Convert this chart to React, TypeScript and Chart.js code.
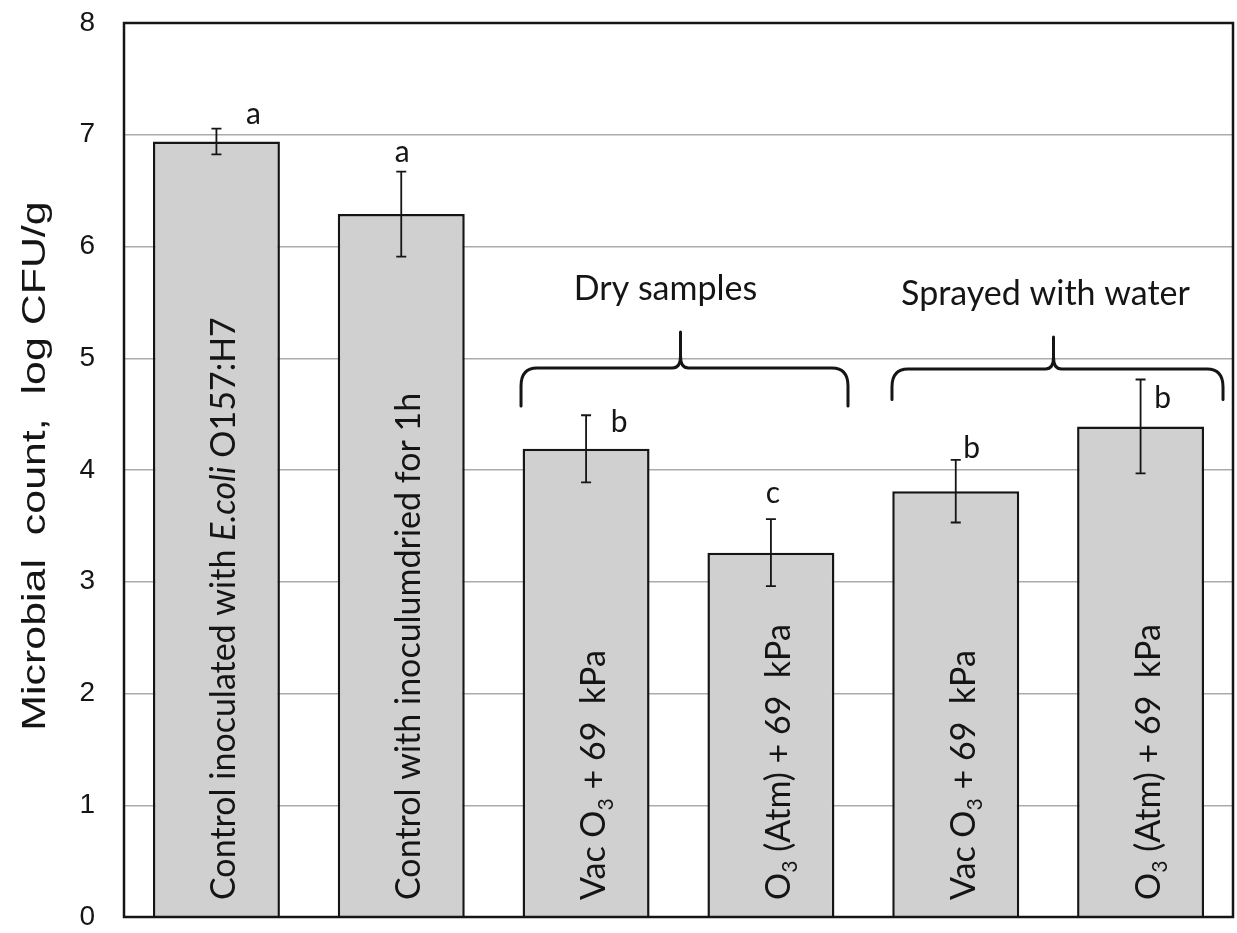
import React, { useEffect, useRef } from 'react';
import { Chart, registerables } from 'chart.js';

Chart.register(...registerables);

type Seg = { t: string; i?: boolean; sub?: boolean };

// Treatments (one bar each)
const categories = ['ctrlInoculated', 'ctrlDried', 'dryVac', 'dryAtm', 'wetVac', 'wetAtm'];

// Text written vertically inside each bar
const barLabels: Seg[][] = [
  [{ t: 'Control inoculated with ' }, { t: 'E.coli', i: true }, { t: ' O157:H7' }],
  [{ t: 'Control with inoculumdried for 1h' }],
  [{ t: 'Vac O' }, { t: '3', sub: true }, { t: ' + 69  kPa' }],
  [{ t: 'O' }, { t: '3', sub: true }, { t: ' (Atm) + 69  kPa' }],
  [{ t: 'Vac O' }, { t: '3', sub: true }, { t: ' + 69  kPa' }],
  [{ t: 'O' }, { t: '3', sub: true }, { t: ' (Atm) + 69  kPa' }],
];

// Mean counts and standard deviations, log CFU/g
const meanLog = [6.94, 6.29, 4.19, 3.26, 3.81, 4.39];
const sdLog = [0.115, 0.38, 0.3, 0.3, 0.28, 0.42];

// Significance letters
const sigLetters = ['a', 'a', 'b', 'c', 'b', 'b'];

// Y axis
const yMin = 0;
const yMax = 8;
const yStep = 1;
const yTitle = 'Microbial  count,  log CFU/g';

// Treatment groups marked with braces
const groupNames = ['Dry samples', 'Sprayed with water'];
const groupFirst = [2, 4];
const groupLast = [3, 5];

// Letter placement relative to the top of each error bar (px)
const letterShift: [number, number][] = [
  [37, -5],
  [1, -10],
  [33, 17],
  [2, -16],
  [16, -2],
  [22, 29],
];

// Brace geometry: side overhang (fraction of category), heights in axis units
const braceGeom = [
  { padL: 0.352, padR: 0.417, tip: 5.235, bar: 4.913, end: 4.573, labelY: 5.52, labelDx: -15 },
  { padL: 0.345, padR: 0.446, tip: 5.19, bar: 4.904, end: 4.63, labelY: 5.48, labelDx: -8 },
];

const CAL = 'Lato, "Open Sans", sans-serif';
const ARIAL = '"Liberation Sans", Arial, sans-serif';
const INK = '#151515';

function drawRich(ctx: CanvasRenderingContext2D, segs: Seg[], size: number) {
  let x = 0;
  for (const s of segs) {
    const fs = s.sub ? size * 0.62 : size;
    ctx.font = `${s.i ? 'italic ' : ''}${fs}px ${CAL}`;
    ctx.fillText(s.t, x, s.sub ? size * 0.22 : 0);
    x += ctx.measureText(s.t).width;
  }
}

function drawBrace(
  ctx: CanvasRenderingContext2D,
  x0: number,
  x1: number,
  xm: number,
  yTip: number,
  yBar: number,
  yEnd: number
) {
  ctx.beginPath();
  ctx.moveTo(x0, yEnd);
  ctx.lineTo(x0, yBar + 18);
  ctx.quadraticCurveTo(x0, yBar, x0 + 16, yBar);
  ctx.lineTo(xm - 8, yBar);
  ctx.quadraticCurveTo(xm, yBar, xm, yBar - 12);
  ctx.lineTo(xm, yTip);
  ctx.moveTo(xm, yBar - 12);
  ctx.quadraticCurveTo(xm, yBar, xm + 8, yBar);
  ctx.lineTo(x1 - 16, yBar);
  ctx.quadraticCurveTo(x1, yBar, x1, yBar + 18);
  ctx.lineTo(x1, yEnd);
  ctx.stroke();
}

const overlay = {
  id: 'overlay',
  afterDatasetsDraw(chart: Chart) {
    const { ctx, chartArea } = chart;
    const xs = chart.scales.x;
    const ys = chart.scales.y;
    const catW = (chartArea.right - chartArea.left) / categories.length;

    ctx.save();

    // error bars + letters
    ctx.strokeStyle = INK;
    ctx.fillStyle = INK;
    ctx.lineWidth = 1.8;
    meanLog.forEach((m, i) => {
      const cx = xs.getPixelForValue(i);
      const top = ys.getPixelForValue(m + sdLog[i]);
      const bot = ys.getPixelForValue(m - sdLog[i]);
      ctx.beginPath();
      ctx.moveTo(cx, top);
      ctx.lineTo(cx, bot);
      ctx.moveTo(cx - 5, top);
      ctx.lineTo(cx + 5, top);
      ctx.moveTo(cx - 5, bot);
      ctx.lineTo(cx + 5, bot);
      ctx.stroke();

      ctx.font = `30px ${CAL}`;
      ctx.textAlign = 'center';
      ctx.textBaseline = 'alphabetic';
      ctx.fillText(sigLetters[i], cx + letterShift[i][0], top + letterShift[i][1]);
    });

    // vertical labels inside bars
    ctx.textAlign = 'left';
    ctx.textBaseline = 'alphabetic';
    barLabels.forEach((segs, i) => {
      const cx = xs.getPixelForValue(i);
      ctx.save();
      ctx.translate(cx + 19, chartArea.bottom - 17);
      ctx.rotate(-Math.PI / 2);
      drawRich(ctx, segs, 34);
      ctx.restore();
    });

    // braces and group names
    ctx.lineWidth = 3;
    ctx.lineCap = 'round';
    ctx.lineJoin = 'round';
    groupNames.forEach((name, g) => {
      const geo = braceGeom[g];
      const x0 = xs.getPixelForValue(groupFirst[g]) - geo.padL * catW;
      const x1 = xs.getPixelForValue(groupLast[g]) + geo.padR * catW;
      const xm = (x0 + x1) / 2 - 4;
      drawBrace(
        ctx,
        x0,
        x1,
        xm,
        ys.getPixelForValue(geo.tip),
        ys.getPixelForValue(geo.bar),
        ys.getPixelForValue(geo.end)
      );
      ctx.font = `34px ${CAL}`;
      ctx.textAlign = 'center';
      ctx.textBaseline = 'alphabetic';
      ctx.fillText(name, xm + geo.labelDx, ys.getPixelForValue(geo.labelY));
    });

    // plot frame
    ctx.lineWidth = 2.5;
    ctx.lineCap = 'butt';
    ctx.lineJoin = 'miter';
    ctx.strokeStyle = INK;
    ctx.strokeRect(
      chartArea.left,
      chartArea.top,
      chartArea.right - chartArea.left,
      chartArea.bottom - chartArea.top
    );

    // y axis title
    ctx.save();
    ctx.translate(45, (chartArea.top + chartArea.bottom) / 2 - 4);
    ctx.rotate(-Math.PI / 2);
    ctx.scale(1.3, 1);
    ctx.font = `33px ${ARIAL}`;
    ctx.textAlign = 'center';
    ctx.textBaseline = 'alphabetic';
    ctx.fillStyle = INK;
    ctx.fillText(yTitle, 0, 0);
    ctx.restore();

    ctx.restore();
  },
};

export default function App() {
  const canvasRef = useRef<HTMLCanvasElement | null>(null);

  useEffect(() => {
    if (!canvasRef.current) return;
    const chart = new Chart(canvasRef.current, {
      type: 'bar',
      data: {
        labels: categories,
        datasets: [
          {
            data: meanLog,
            backgroundColor: '#d0d0d0',
            borderColor: INK,
            borderWidth: 2.5,
            borderSkipped: 'bottom',
            barPercentage: 0.687,
            categoryPercentage: 1,
          },
        ],
      },
      options: {
        animation: false,
        responsive: false,
        maintainAspectRatio: false,
        layout: { padding: { top: 23, right: 4, bottom: 0, left: 0 } },
        plugins: {
          legend: { display: false },
          tooltip: { enabled: false },
        },
        scales: {
          x: {
            grid: { display: false },
            border: { display: false },
            ticks: { display: false },
            afterFit: (s: any) => {
              s.height = 16;
            },
          },
          y: {
            min: yMin,
            max: yMax,
            ticks: {
              stepSize: yStep,
              padding: 29,
              color: INK,
              font: { family: ARIAL, size: 28 },
            },
            grid: {
              drawTicks: false,
              lineWidth: 1.5,
              color: (c: any) =>
                c.tick && (c.tick.value === yMin || c.tick.value === yMax) ? 'rgba(0,0,0,0)' : '#ababab',
            },
            border: { display: false },
            afterFit: (s: any) => {
              s.width = 124;
              s.paddingTop = 0;
              s.paddingBottom = 0;
            },
          },
        },
      },
      plugins: [overlay],
    });
    return () => chart.destroy();
  }, []);

  return (
    <div style={{ position: 'fixed', left: 0, top: 0, width: 1237, height: 933, background: '#fff' }}>
      <canvas ref={canvasRef} width={1237} height={933} style={{ width: 1237, height: 933, display: 'block' }} />
    </div>
  );
}
